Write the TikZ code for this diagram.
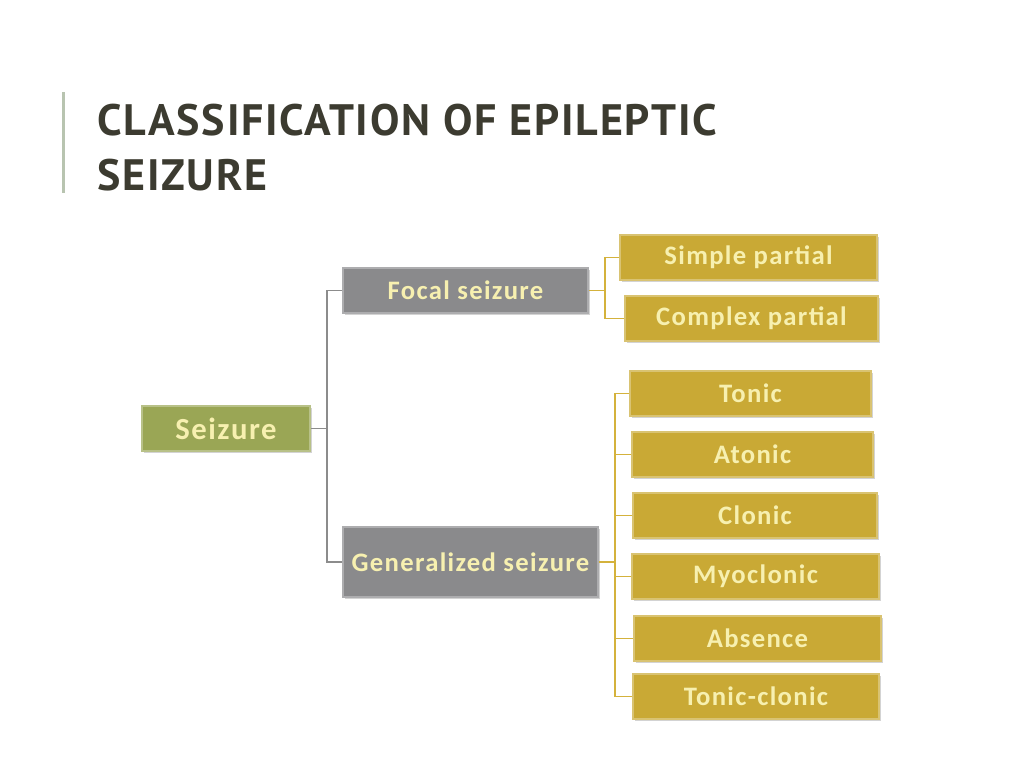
\documentclass[tikz,border=0pt]{standalone}
\usepackage{fontspec}
\setmainfont{Carlito}
\newfontfamily\titlefont[LetterSpace=4]{PT Sans}
\newfontfamily\boxfont[LetterSpace=5]{Carlito}
\usetikzlibrary{shadows}
\definecolor{titlec}{HTML}{3C3B30}
\definecolor{barc}{HTML}{B8C4B0}
\definecolor{greenc}{HTML}{9AA655}
\definecolor{grayc}{HTML}{8A8A8C}
\definecolor{goldc}{HTML}{C9A935}
\definecolor{txtc}{HTML}{F7F0B0}
\definecolor{goldline}{HTML}{D4B23C}
\definecolor{grayline}{HTML}{8C8C8C}
\tikzset{
  box/.style={draw=#1!70!white,line width=1.2pt,fill=#1,drop shadow={shadow xshift=1.5pt,shadow yshift=-1.5pt,opacity=0.35},
    text=txtc,font=\boxfont\bfseries\fontsize{20}{24}\selectfont,inner sep=0pt},
  gl/.style={draw=goldline,line width=1.3pt},
  yl/.style={draw=grayline,line width=1.2pt}
}
\begin{document}
\begin{tikzpicture}[x=0.75pt,y=-0.75pt]
\useasboundingbox (0,0) rectangle (1024,768);
\fill[barc] (62,92) rectangle (64.5,193);
\node[anchor=base west,text=titlec,font=\titlefont\bfseries\fontsize{33}{36}\selectfont,inner sep=0] (t1) at (97,135) {CLASSIFICATION OF EPILEPTIC};
\node[anchor=base west,text=titlec,font=\titlefont\bfseries\fontsize{33}{36}\selectfont,inner sep=0] (t2) at (97,190) {SEIZURE};
\node[box=greenc,minimum width=126pt,minimum height=33.75pt,font=\boxfont\bfseries\fontsize{23}{26}\selectfont] (sz) at (226,428.5) {Seizure};
\node[box=grayc,minimum width=183.75pt,minimum height=33.75pt] (fo) at (465.5,290.5) {Focal seizure};
\node[box=grayc,minimum width=191.25pt,minimum height=52.5pt] (ge) at (470.5,562) {Generalized seizure};
\node[box=goldc,minimum width=192.75pt,minimum height=33.75pt] (sp) at (748.5,257.5) {Simple partial};
\node[box=goldc,minimum width=189.75pt,minimum height=33.75pt] (cp) at (751.5,318.5) {Complex partial};
\node[box=goldc,minimum width=180.75pt,minimum height=33.75pt] (to) at (750.5,393.5) {Tonic};
\node[box=goldc,minimum width=180.75pt,minimum height=33.75pt] (at) at (752.5,454.5) {Atonic};
\node[box=goldc,minimum width=183pt,minimum height=33.75pt] (cl) at (755,515.5) {Clonic};
\node[box=goldc,minimum width=185.25pt,minimum height=33.75pt] (my) at (755.5,576.5) {Myoclonic};
\node[box=goldc,minimum width=185.25pt,minimum height=33.75pt] (ab) at (757.5,638.5) {Absence};
\node[box=goldc,minimum width=184.5pt,minimum height=33.75pt] (tc) at (756,696.5) {Tonic-clonic};
\draw[yl] (sz.east) -- ++(16,0) coordinate (j1);
\draw[yl] (fo.west) -| (j1) |- (ge.west);
\draw[gl] (fo.east) -- ++(16,0) coordinate (j2);
\draw[gl] (sp.west) -| (j2) |- (cp.west);
\draw[gl] (ge.east) -- ++(16,0) coordinate (j3);
\draw[gl] (to.west) -| (j3) |- (tc.west);
\foreach \n in {at,cl,my,ab} \draw[gl] (\n.west) -- (j3 |- \n.west);
\end{tikzpicture}
\end{document}
